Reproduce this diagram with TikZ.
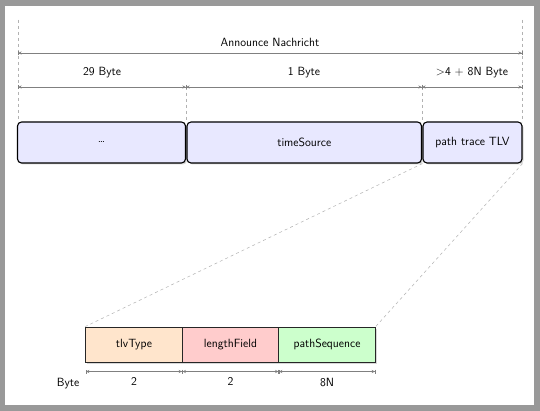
\documentclass[tikz,border=0pt]{standalone}
\usetikzlibrary{shadows,arrows.meta}
\begin{document}
\begin{tikzpicture}[x=1pt,y=-1pt,
  every node/.style={font=\fontsize{11.9}{13.5}\selectfont\sffamily},
  topbox/.style={draw=black,line width=1.1pt,rounded corners=4pt,fill=blue!9,
    drop shadow={opacity=0.3,shadow xshift=1.5pt,shadow yshift=-1.5pt},
    minimum height=41pt,inner sep=0pt},
  botbox/.style={draw=black!85,line width=0.9pt,minimum height=35pt,minimum width=96.5pt,inner sep=0pt,
    drop shadow={opacity=0.3,shadow xshift=1.5pt,shadow yshift=-1.5pt}},
  dim/.style={draw=gray,line width=0.5pt,{Bar[width=4pt]Stealth[length=3pt,width=3pt]}-{Stealth[length=3pt,width=3pt]Bar[width=4pt]}},
  guide/.style={draw=gray!60,dashed,line width=0.5pt},
  lbl/.style={inner sep=0pt,anchor=base}
]
\useasboundingbox (0,0) rectangle (540,411);
\fill[black!40] (0,0) rectangle (540,411);
\fill[white] (5,6) rectangle (534,405);

% top boxes
\node[topbox,minimum width=168pt] (b1) at (101.5,142.5) {\dots};
\node[topbox,minimum width=234.5pt] (b2) at (304.25,142.5) {timeSource};
\node[topbox,minimum width=99pt] (b3) at (472.5,142.5) {path trace TLV};

% bottom boxes
\node[botbox,fill=orange!20] (t1) at (134,344.5) {tlvType};
\node[botbox,fill=red!20] (t2) at (230.5,344.5) {lengthField};
\node[botbox,fill=green!20] (t3) at (327,344.5) {pathSequence};

% guide coordinates
\coordinate (gL) at (18,20);
\coordinate (gR) at (522,20);
\coordinate (gA) at (186,87);
\coordinate (gB) at (422,87);
\coordinate (gLb) at (18,122);
\coordinate (gRb) at (522,122);
\coordinate (gAb) at (186,122);
\coordinate (gBb) at (422,122);
\draw[guide] (gL) -- (gLb);
\draw[guide] (gR) -- (gRb);
\draw[guide] (gA) -- (gAb);
\draw[guide] (gB) -- (gBb);

% dimension coordinates
\coordinate (a1) at (18,53);
\coordinate (a2) at (522,53);
\coordinate (d0) at (18,87);
\coordinate (d1) at (186,87);
\coordinate (d2) at (422,87);
\coordinate (d3) at (522,87);
\draw[dim] (a1) -- node[lbl,above=6pt] (n0) {Announce Nachricht} (a2);
\draw[dim] (d0) -- node[lbl,above=9pt] (n1) {29 Byte} (d1);
\draw[dim] (d1) -- node[lbl,above=9pt] (n2) {1 Byte} (d2);
\draw[dim] (d2) -- node[lbl,above=9pt] (n3) {\textgreater4 + 8N Byte} (d3);

% zoom lines
\draw[guide] (b3.south west) -- (t1.north west);
\draw[guide] (b3.south east) -- (t3.north east);

% bottom dims
\coordinate (e0) at (85.75,371.5);
\coordinate (e1) at (182.25,371.5);
\coordinate (e2) at (278.75,371.5);
\coordinate (e3) at (375.25,371.5);
\draw[dim] (e0) -- node[lbl,below=6pt] (m1) {2} (e1);
\draw[dim] (e1) -- node[lbl,below=6pt] (m2) {2} (e2);
\draw[dim] (e2) -- node[lbl,below=6pt] (m3) {8N} (e3);
\node (by) at (68,384) {Byte};
\end{tikzpicture}
\end{document}
